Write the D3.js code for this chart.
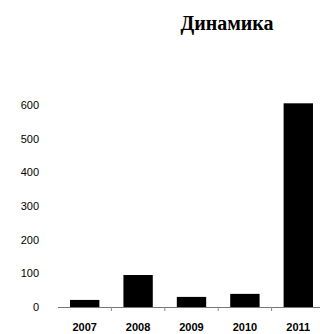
<!DOCTYPE html>
<html><head><meta charset="utf-8">
<script src="https://cdn.jsdelivr.net/npm/d3@7"></script>
<style>body{margin:0;background:#fff}svg{display:block}</style>
</head><body>
<script>
const categories = ["2007","2008","2009","2010","2011"];
const values = [21, 95, 30, 39, 605];
const yTicks = [0,100,200,300,400,500,600];
const title = "Динамика";

const W = 320, H = 334;
const svg = d3.select("body").append("svg").attr("width", W).attr("height", H);

const x = d3.scaleBand().domain(categories).range([58, 325]).paddingInner(0.45).paddingOuter(0.225);
const y = d3.scaleLinear().domain([0, 600]).range([307, 105]);

svg.append("text").attr("x", 227).attr("y", 30).attr("text-anchor", "middle")
  .attr("font-family", "'Liberation Serif', 'Times New Roman', serif").attr("font-weight", "bold")
  .attr("font-size", 20).attr("fill", "#000").text(title);

// y labels
svg.append("g").selectAll("text").data(yTicks).join("text")
  .attr("x", 39).attr("y", d => y(d)).attr("dy", "0.35em").attr("text-anchor", "end")
  .attr("font-family", "'Liberation Sans', Arial, sans-serif").attr("font-size", 11).attr("fill", "#000")
  .text(d => d);

// baseline
svg.append("line").attr("x1", 58).attr("x2", 320).attr("y1", y(0)+0.5).attr("y2", y(0)+0.5)
  .attr("stroke", "#777").attr("stroke-width", 1);

// tick marks between categories
const bounds = categories.slice(1).map(c => x(c) - x.step()*x.paddingInner()/2);
svg.append("g").selectAll("line").data(bounds).join("line")
  .attr("x1", d => d).attr("x2", d => d).attr("y1", y(0)).attr("y2", y(0)+4)
  .attr("stroke", "#888").attr("stroke-width", 1);

// bars
svg.append("g").selectAll("rect").data(values).join("rect")
  .attr("x", (d,i) => x(categories[i])).attr("width", x.bandwidth())
  .attr("y", d => y(d)).attr("height", d => y(0) - y(d)).attr("fill", "#000");

// x labels
svg.append("g").selectAll("text").data(categories).join("text")
  .attr("x", d => x(d) + x.bandwidth()/2).attr("y", 331).attr("text-anchor", "middle")
  .attr("font-family", "'Liberation Sans', Arial, sans-serif").attr("font-size", 11).attr("font-weight", "bold")
  .attr("fill", "#000").text(d => d);
</script>
</body></html>
